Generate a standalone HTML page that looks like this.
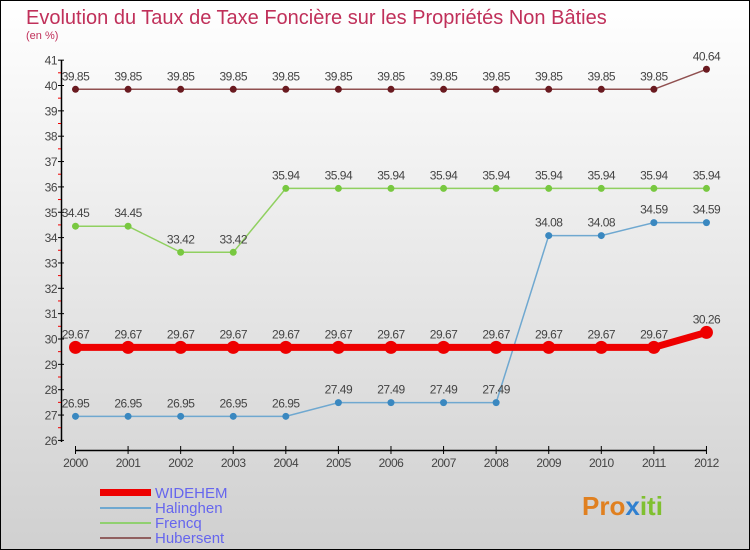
<!DOCTYPE html>
<html><head><meta charset="utf-8"><style>
body{margin:0}
svg{display:block;font-family:"Liberation Sans","DejaVu Sans",sans-serif}
</style></head><body>
<svg id="c" width="750" height="550" xmlns="http://www.w3.org/2000/svg">
<defs><linearGradient id="bg" x1="0" y1="0" x2="0" y2="1"><stop offset="0" stop-color="#ffffff"/><stop offset="1" stop-color="#d0d0d0"/></linearGradient></defs>
<rect x="0.5" y="0.5" width="749" height="549" fill="url(#bg)" stroke="#000"/>
<text x="26" y="24" font-size="20" fill="#c0305a">Evolution du Taux de Taxe Foncière sur les Propriétés Non Bâties</text>
<text x="26" y="39" font-size="11" fill="#c0305a">(en %)</text>
<g id="axes"></g><g id="series"></g>
<g>
<rect x="100" y="489" width="51" height="7" fill="#e00"/>
<text x="155" y="498" font-size="15" fill="#6666ee">WIDEHEM</text>
<rect x="100" y="507" width="51" height="2" fill="#6fa8d0"/>
<text x="155" y="513" font-size="15" fill="#6666ee">Halinghen</text>
<rect x="100" y="522" width="51" height="2" fill="#90d070"/>
<text x="155" y="528" font-size="15" fill="#6666ee">Frencq</text>
<rect x="100" y="537" width="51" height="2" fill="#906060"/>
<text x="155" y="543" font-size="15" fill="#6666ee">Hubersent</text>
</g>
<text x="582" y="515" font-size="26" font-weight="bold" fill="#e08020">Pro<tspan fill="#3080d0">x</tspan><tspan fill="#80c030">iti</tspan></text>
</svg>
<script>
const years=[2000,2001,2002,2003,2004,2005,2006,2007,2008,2009,2010,2011,2012];
const yTicks=[26,27,28,29,30,31,32,33,34,35,36,37,38,39,40,41];
const widehem=[29.67,29.67,29.67,29.67,29.67,29.67,29.67,29.67,29.67,29.67,29.67,29.67,30.26];
const halinghen=[26.95,26.95,26.95,26.95,26.95,27.49,27.49,27.49,27.49,34.08,34.08,34.59,34.59];
const frencq=[34.45,34.45,33.42,33.42,35.94,35.94,35.94,35.94,35.94,35.94,35.94,35.94,35.94];
const hubersent=[39.85,39.85,39.85,39.85,39.85,39.85,39.85,39.85,39.85,39.85,39.85,39.85,40.64];
const NS="http://www.w3.org/2000/svg";
const xs=i=>75.5+i*52.58;
const ys=v=>339-(v-30)*25.35;
function mk(p,tag,at){const e=document.createElementNS(NS,tag);for(const k in at)e.setAttribute(k,at[k]);p.appendChild(e);return e;}
const ax=document.getElementById('axes');
let l=mk(ax,'line',{x1:61.5,y1:60,x2:61.5,y2:442,stroke:'#000','stroke-width':1.5});


l=mk(ax,'line',{x1:75,y1:450.5,x2:707,y2:450.5,stroke:'#000','stroke-width':1.5});


yTicks.forEach(v=>{const y=ys(v);
mk(ax,'line',{x1:58,y1:y,x2:64,y2:y,stroke:'#000'});
if(v<41)mk(ax,'line',{x1:58,y1:y-12.7,x2:61,y2:y-12.7,stroke:'#e00'});
const t=mk(ax,'text',{x:57,y:y+4.5,'font-size':12,'text-anchor':'end',fill:'#444','letter-spacing':'-0.5'});t.textContent=v;

});
years.forEach((yr,i)=>{const x=xs(i);
mk(ax,'line',{x1:x,y1:446,x2:x,y2:454,stroke:'#000'});
const t=mk(ax,'text',{x:x,y:467,'font-size':12,'text-anchor':'middle',fill:'#444','letter-spacing':'-0.5'});t.textContent=yr;

});
const sg=document.getElementById('series');
function draw(name,vals,color,dot,w,r){
const g=mk(sg,'g',{});


const p=mk(g,'polyline',{points:vals.map((v,i)=>xs(i)+','+ys(v)).join(' '),fill:'none',stroke:color,'stroke-width':w});


vals.forEach((v,i)=>{
const c=mk(g,'circle',{cx:xs(i),cy:ys(v),r:r,fill:dot});


const t=mk(g,'text',{x:xs(i),y:ys(v)-9,'font-size':12,'text-anchor':'middle',fill:'#444','letter-spacing':'-0.5'});
t.textContent=v.toFixed(2).replace(/0$/,'').replace(/\.$/,'');

});}
draw('hubersent',hubersent,'#905050','#6a1a20',1.5,3.5);
draw('frencq',frencq,'#90d060','#78c840',1.5,3.5);
draw('halinghen',halinghen,'#6fa8d0','#3a88c0',1.5,3.5);
draw('widehem',widehem,'#ee0000','#ee0000',7,6.5);
</script>
</body></html>
